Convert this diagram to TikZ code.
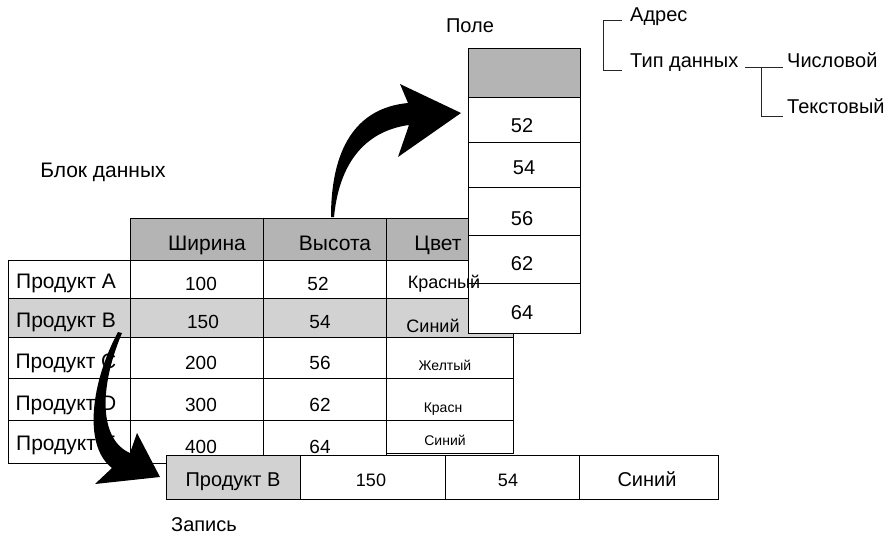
\documentclass[tikz,border=0pt]{standalone}
\usepackage{fontspec}
\setmainfont{Liberation Sans}
\usetikzlibrary{calc}
\definecolor{hdrgray}{HTML}{B4B4B4}
\definecolor{rowgray}{HTML}{D2D2D2}
\tikzset{
  cellbox/.style={draw=black, line width=0.9pt},
  txt/.style={inner sep=0pt, anchor=base, font=\fontsize{20}{24}\selectfont},
  bigtxt/.style={inner sep=0pt, anchor=base, font=\fontsize{21}{25}\selectfont},
  smalltxt/.style={inner sep=0pt, anchor=base, font=\fontsize{14}{16}\selectfont},
  midtxt/.style={inner sep=0pt, anchor=base, font=\fontsize{18}{20}\selectfont},
  numtxt/.style={inner sep=0pt, anchor=base, font=\fontsize{19}{22}\selectfont},
  treeline/.style={draw=black!85, line width=0.9pt},
  bigarrow/.style={fill=black, draw=none}
}
\begin{document}
\begin{tikzpicture}[x=1pt,y=-1pt]
\useasboundingbox (0,0) rectangle (893,540);
\fill[white] (0,0) rectangle (893,540);

% ---------- main table ----------
\filldraw[cellbox, fill=hdrgray] (130,218) rectangle (263,260);
\filldraw[cellbox, fill=hdrgray] (263,218) rectangle (386,260);
\filldraw[cellbox, fill=hdrgray] (386,218) rectangle (513,260);
\foreach \ya/\yb/\yc/\col in {260/298/298/white, 298/337/337/rowgray, 337/378/378/white, 378/420/420/white, 420/463/453/white}{
  \filldraw[cellbox, fill=\col] (8,\ya) rectangle (130,\yb);
  \filldraw[cellbox, fill=\col] (130,\ya) rectangle (263,\yb);
  \filldraw[cellbox, fill=\col] (263,\ya) rectangle (386,\yb);
  \filldraw[cellbox, fill=\col] (386,\ya) rectangle (513,\yc);
}
\node[bigtxt] (hw) at (207,250) {Ширина};
\node[bigtxt] (hh) at (335,250) {Высота};
\node[bigtxt] (hc) at (438,250) {Цвет};

\node[bigtxt] (pa) at (66,288) {Продукт A};
\node[bigtxt] (pb) at (66,327) {Продукт B};
\node[bigtxt] (pc) at (66,368) {Продукт C};
\node[bigtxt] (pd) at (66,410) {Продукт D};
\node[bigtxt] (pe) at (66,450) {Продукт E};

\node[numtxt] (wa) at (201,290) {100};
\node[numtxt] (wb) at (203,328) {150};
\node[numtxt] (wc) at (201,369) {200};
\node[numtxt] (wd) at (201,411) {300};
\node[numtxt] (we) at (201,453) {400};

\node[numtxt] (ha) at (318,290) {52};
\node[numtxt] (hb) at (320,328) {54};
\node[numtxt] (hc2) at (320,369) {56};
\node[numtxt] (hd) at (320,411) {62};
\node[numtxt] (he) at (320,453) {64};

\node[midtxt] (cb) at (433,332) {Синий};
\node[smalltxt] (cc) at (445,370) {Желтый};
\node[smalltxt] (cd) at (443,412) {Красн};
\node[smalltxt] (ce) at (445,445) {Синий};

% ---------- field column ----------
\filldraw[cellbox, fill=hdrgray] (468,48) rectangle (580,97);
\foreach \ya/\yb in {97/142, 142/187, 187/235, 235/283, 283/333}{
  \filldraw[cellbox, fill=white] (468,\ya) rectangle (580,\yb);
}
\node[txt] (f1) at (522,133) {52};
\node[txt] (f2) at (524,175) {54};
\node[txt] (f3) at (522,225) {56};
\node[txt] (f4) at (522,270) {62};
\node[txt] (f5) at (522,319) {64};

\node[midtxt] (ca) at (444,288) {Красный};

% ---------- record row ----------
\filldraw[cellbox, fill=rowgray] (166,455) rectangle (300,499);
\filldraw[cellbox, fill=white] (300,455) rectangle (445,499);
\filldraw[cellbox, fill=white] (445,455) rectangle (579,499);
\filldraw[cellbox, fill=white] (579,455) rectangle (718,499);
\node[txt] (r1) at (233,486) {Продукт B};
\node[midtxt] (r2) at (371,486) {150};
\node[midtxt] (r3) at (508,486) {54};
\node[txt] (r4) at (647,486) {Синий};

% ---------- labels ----------
\node[txt] (pole) at (470,33) {Поле};
\node[bigtxt] (blok) at (103,178) {Блок данных};
\node[txt] (zap) at (204,531) {Запись};

% ---------- tree ----------
\node[txt, anchor=base west] (adr) at (630,22) {Адрес};
\node[txt, anchor=base west] (typ) at (630,68) {Тип данных};
\node[txt, anchor=base west] (num) at (787,68) {Числовой};
\node[txt, anchor=base west] (tek) at (787,114) {Текстовый};
\draw[treeline] ([xshift=-8pt,yshift=2pt]adr.base west) -- ++(-19,0)
      |- ([xshift=-8pt,yshift=-2pt]typ.base west);
\draw[treeline] ([xshift=6pt,yshift=1pt]typ.base east) -- ([xshift=-4pt,yshift=1pt]num.base west);
\coordinate (jn) at ([xshift=23pt,yshift=1pt]typ.base east);
\draw[treeline] (jn) |- ([xshift=-4pt,yshift=-2pt]tek.base west);

% ---------- arrows ----------
\fill[bigarrow] (331,217) .. controls (331,150) and (355,108) .. (408,103)
  -- (400,84) -- (461,113) -- (398,157) -- (409,125)
  .. controls (372,130) and (340,155) .. (334,217) -- cycle;
\fill[bigarrow] (118,332) .. controls (92,380) and (82,445) .. (112,468)
  -- (95,484) -- (160,477) -- (137,433) -- (130,453)
  .. controls (100,440) and (98,390) .. (122,333) -- cycle;
\end{tikzpicture}
\end{document}
